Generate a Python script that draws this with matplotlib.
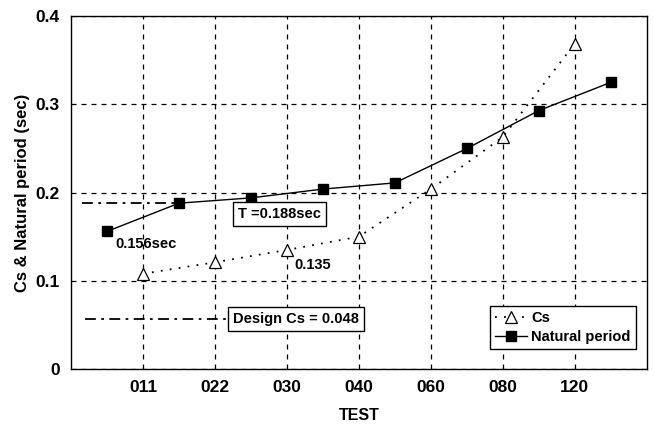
import matplotlib
matplotlib.use("Agg")
import matplotlib.pyplot as plt

plt.rcParams['font.family'] = ['Liberation Sans', 'DejaVu Sans']
plt.rcParams['font.weight'] = 'bold'

tests = ["011", "022", "030", "040", "060", "080", "120"]
cs_values = [0.108, 0.121, 0.135, 0.150, 0.204, 0.263, 0.369]
period_values = [0.156, 0.188, 0.194, 0.204, 0.211, 0.250, 0.293, 0.325]
yticks = [0, 0.1, 0.2, 0.3, 0.4]
ytick_labels = ["0", "0.1", "0.2", "0.3", "0.4"]
t_line = 0.188
design_line = 0.057

fig = plt.figure(figsize=(6.54, 4.26), dpi=100)
ax = fig.add_axes([0.1086, 0.1338, 0.8804, 0.8282])

cs_x = list(range(1, len(tests) + 1))
per_x = [i + 0.5 for i in range(len(period_values))]

ax.plot(cs_x, cs_values, linestyle=(0, (1, 4)), color='black', lw=1.3,
        marker='^', markersize=9, markerfacecolor='white', markeredgecolor='black',
        markeredgewidth=0.9, label='Cs', zorder=4)
ax.plot(per_x, period_values, linestyle='-', color='black', lw=1.0,
        marker='s', markersize=6.5, markerfacecolor='black', label='Natural period', zorder=4)

ax.plot([0.15, 1.5], [t_line, t_line], color='black', lw=1.3,
        linestyle=(0, (6, 3, 1.5, 3)), zorder=3)
ax.plot([0.2, 2.2], [design_line, design_line], color='black', lw=1.3,
        linestyle=(0, (6, 3, 1.5, 3)), zorder=3)

box = dict(boxstyle='square,pad=0.35', facecolor='white', edgecolor='black', lw=1.0)
ax.text(2.32, 0.1755, "T =0.188sec", fontsize=10.5, fontweight='bold', ha='left', va='center', bbox=box, zorder=5)
ax.text(2.25, design_line, "Design Cs = 0.048", fontsize=10.5, fontweight='bold', ha='left', va='center', bbox=box, zorder=5)
ax.text(0.62, 0.142, "0.156sec", fontsize=10.5, fontweight='bold', ha='left', va='center')
ax.text(3.1, 0.118, "0.135", fontsize=10.5, fontweight='bold', ha='left', va='center')

ax.set_xlim(0, 8)
ax.set_ylim(0, 0.4)
ax.set_xticks(cs_x)
ax.set_xticklabels(tests, fontsize=12.5, fontweight='bold')
ax.set_yticks(yticks)
ax.set_yticklabels(ytick_labels, fontsize=12.5, fontweight='bold')
ax.tick_params(length=0, pad=8)
ax.grid(True, color='black', linestyle=(0, (4, 4)), lw=0.9)
for s in ax.spines.values():
    s.set_linewidth(1.0)

ax.set_xlabel("TEST", fontsize=11.5, fontweight='bold', labelpad=9)
ax.set_ylabel("Cs & Natural period (sec)", fontsize=12, fontweight='bold', labelpad=4)

leg = ax.legend(loc='lower right', bbox_to_anchor=(0.981, 0.057), borderaxespad=0,
                frameon=True, fancybox=False,
                edgecolor='black', framealpha=1, fontsize=10.5, handlelength=2.2,
                borderpad=0.35, labelspacing=0.35, handletextpad=0.3)
leg.get_frame().set_linewidth(1.0)

fig.savefig("out.png", dpi=100)
